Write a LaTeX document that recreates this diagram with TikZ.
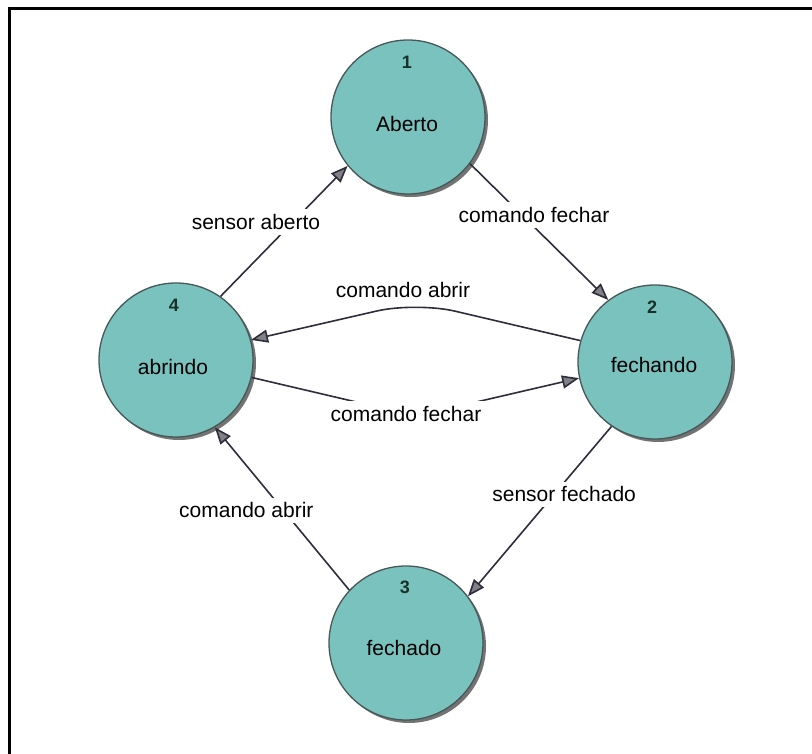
\documentclass[tikz,border=0pt]{standalone}
\usepackage{fontspec}
\setmainfont{Liberation Sans}
\usetikzlibrary{arrows.meta,shadows}
\definecolor{stfill}{RGB}{122,194,190}
\definecolor{stline}{RGB}{70,88,88}
\definecolor{edgeline}{RGB}{45,45,60}
\definecolor{tipfill}{RGB}{128,128,134}
\definecolor{numtext}{RGB}{25,50,40}
\begin{document}
\begin{tikzpicture}[x=1pt,y=-1pt,
  state/.style={circle, minimum size=154pt, inner sep=0pt, fill=stfill,
    draw=stline, line width=1.3pt,
    general shadow={shadow xshift=3pt, shadow yshift=-3pt, fill=black!55}},
  statename/.style={font=\fontsize{21}{24}\selectfont, inner sep=0pt},
  statenum/.style={font=\fontsize{18}{20}\selectfont\bfseries, text=numtext, inner sep=0pt},
  trans/.style={draw=edgeline, line width=1.6pt,
    -{Triangle[length=17pt,width=13pt,fill=tipfill]}},
  tlabel/.style={font=\fontsize{21}{24}\selectfont, fill=white, inner xsep=3pt, inner ysep=5pt},
  plainlabel/.style={font=\fontsize{21}{24}\selectfont, inner sep=0pt},
]
\useasboundingbox (0,0) rectangle (812,754);
% frame lines (left and top)
\draw[line width=3pt] (9,754) -- (9,9) -- (812,9);

% states
\node[state] (c1) at (408,117) {};
\node[state] (c4) at (176,360) {};
\node[state] (c2) at (655,362) {};
\node[state] (c3) at (406,643) {};

\node[statenum]  (n1) at (407,62)  {1};
\node[statename] (s1) at (407,124) {Aberto};
\node[statenum]  (n4) at (174,305) {4};
\node[statename] (s4) at (173,367) {abrindo};
\node[statenum]  (n2) at (652,307) {2};
\node[statename] (s2) at (654,365) {fechando};
\node[statenum]  (n3) at (405,587) {3};
\node[statename] (s3) at (404,648) {fechado};

% transitions
\draw[trans] (c4.55) -- node[tlabel, pos=0.57, xshift=-37pt] {sensor aberto} (c1.219);
\draw[trans] (c1.-37) -- node[tlabel, pos=0.376, xshift=12pt] {comando fechar} (c2.127);
\draw[trans] (c2.236) -- node[tlabel, pos=0.40, xshift=10pt] {sensor fechado} (c3.37);
\draw[trans] (c3.137) -- node[tlabel, pos=0.49, xshift=-37pt] {comando abrir} (c4.-60);
\draw[trans, rounded corners=40pt] (c2.164) -- (416,302) -- (c4.15);
\node[plainlabel] (l24) at (403,290) {comando abrir};
\draw[trans, rounded corners=40pt] (c4.-13) -- (416,416) -- (c2.192);
\node[tlabel] (l42) at (406,414) {comando fechar};
\end{tikzpicture}
\end{document}
